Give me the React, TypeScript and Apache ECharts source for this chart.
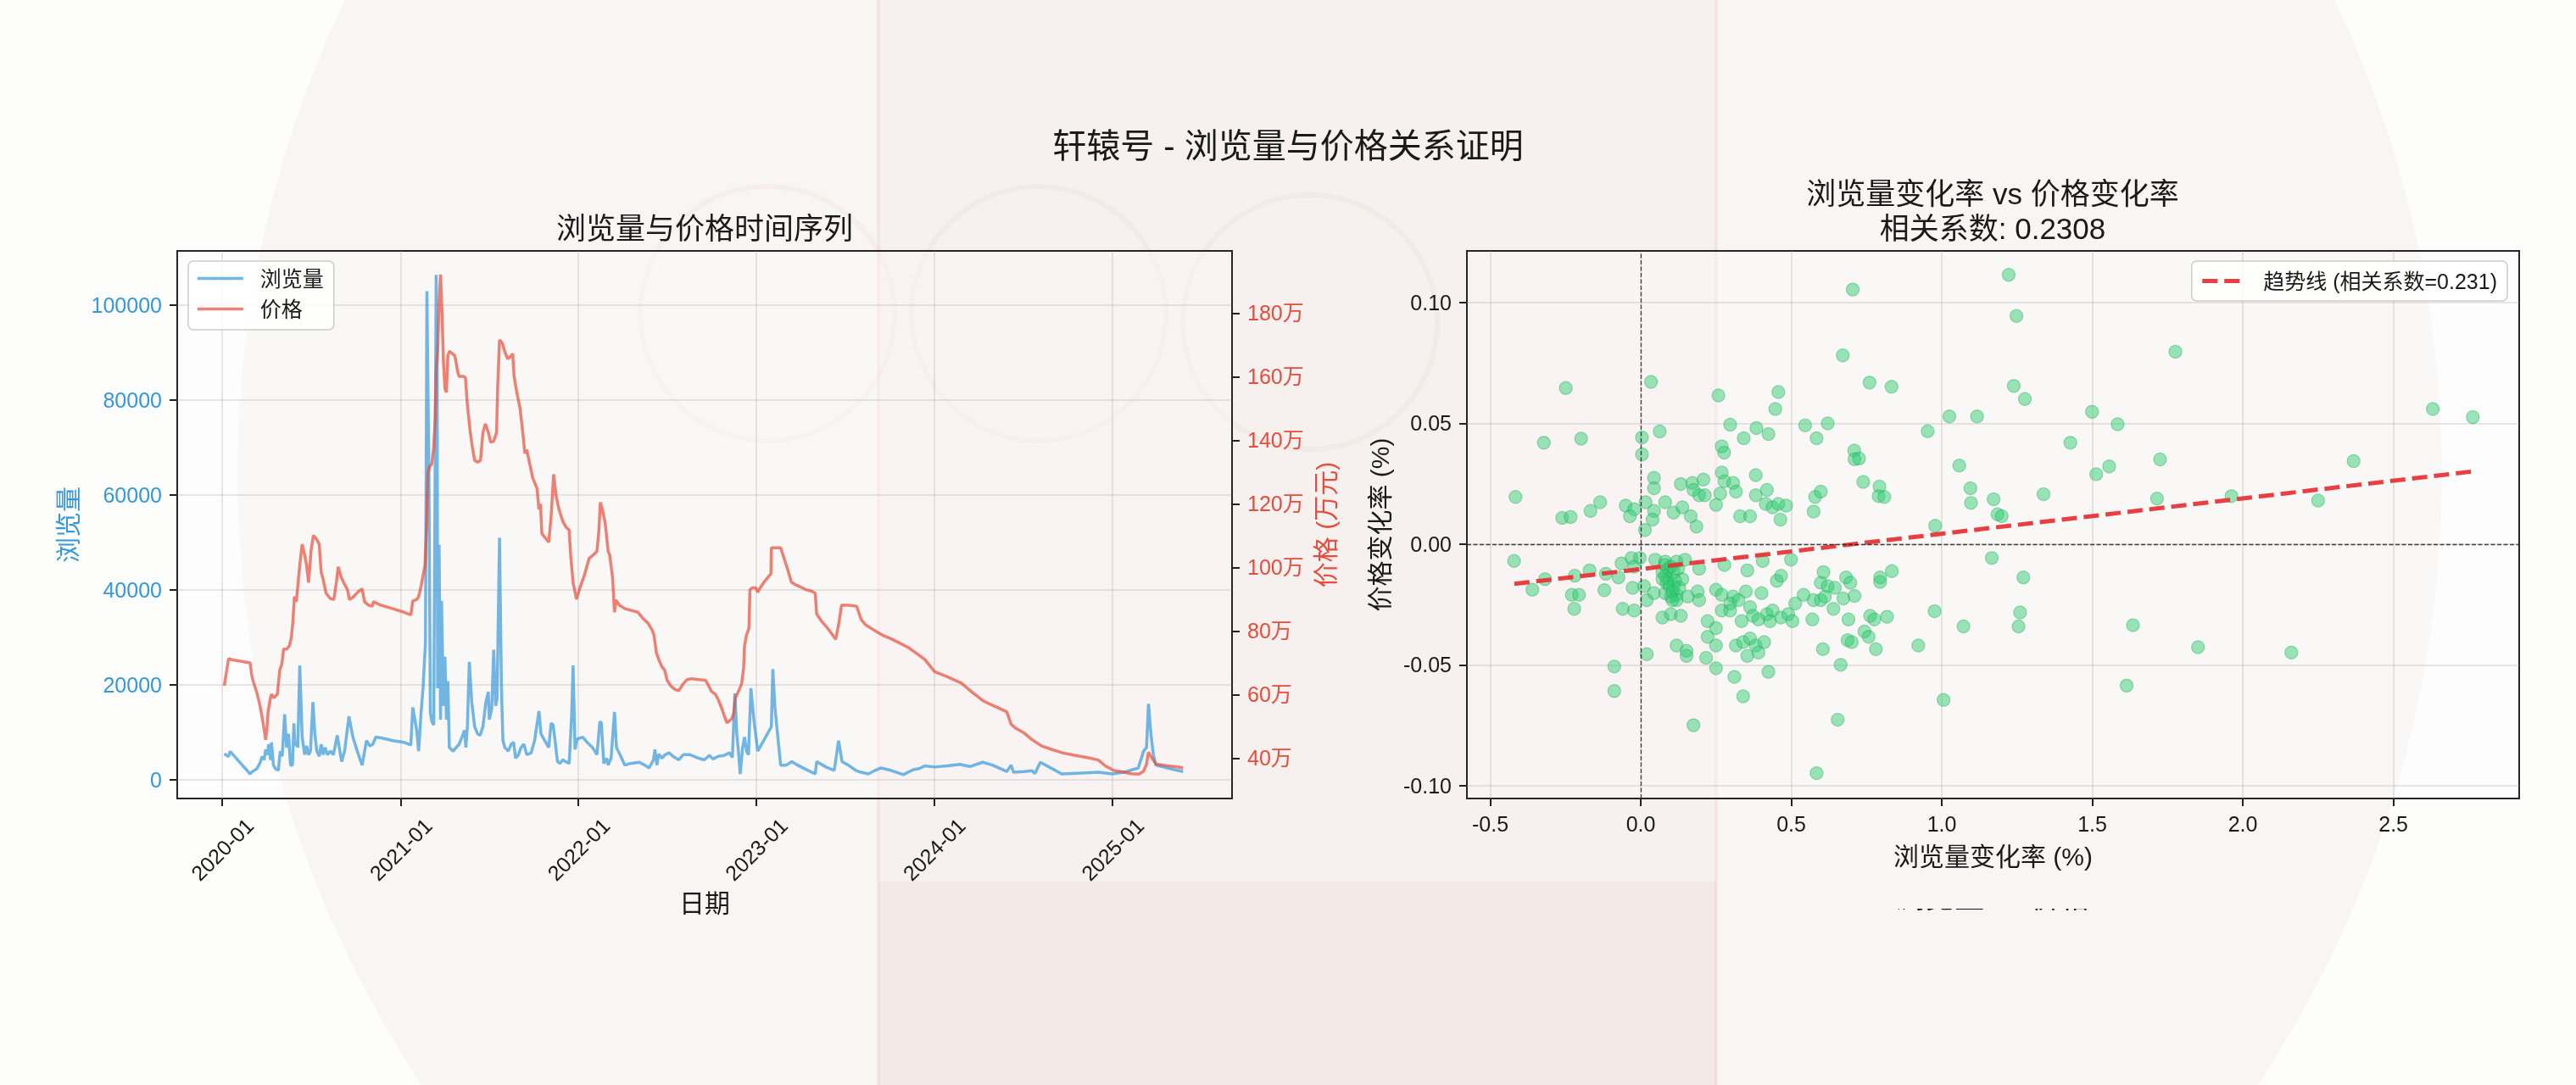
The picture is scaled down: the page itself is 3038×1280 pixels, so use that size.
import { useEffect, useRef } from 'react';
import * as echarts from 'echarts';

const FONT = "'Liberation Sans', 'Noto Sans CJK SC', sans-serif";
const W = 3038;
const H = 1280;

// Dates are stored as days since 2020-01-01
const START = new Date(2020, 0, 1).getTime();
const DAY = 86400000;
const toTime = (d: number) => START + d * DAY;

// 浏览量 [days since 2020-01-01, views]
const viewPoints: number[][] = [
  [4,5500],[13,4900],[16,6000],[57,1250],[60,1600],[71,2350],[77,3450],[82,4950],[86,4200],[89,6400],[93,5300],[95,7500],[99,4200],[101,7900],[105,3100],[109,2350],[115,2000],[119,6050],[123,4950],[128,13800],[132,6800],[136,9700],[140,3100],[144,3100],[147,11900],[149,7150],[152,8250],[155,6800],[159,24100],[164,9000],[169,5300],[173,7150],[177,5300],[181,6050],[186,16350],[190,9700],[194,6050],[199,4950],[203,7500],[207,5300],[211,6800],[216,5300],[222,6050],[228,5300],[236,9350],[245,3850],[251,6050],[260,13400],[268,9000],[277,6050],[287,3100],[296,8250],[303,7150],[309,7500],[315,9000],[326,8850],[350,8250],[373,7900],[387,7350],[391,15250],[399,10450],[403,6050],[408,14150],[412,19300],[417,28900],[420,102950],[424,65750],[427,14150],[430,12300],[434,11550],[437,67200],[439,106400],[441,88600],[442,19300],[445,49500],[448,12700],[450,37700],[454,15600],[457,25950],[460,12700],[463,20800],[466,6800],[474,6050],[480,6800],[486,7500],[492,9000],[497,10450],[500,6800],[503,11200],[507,24850],[512,16350],[518,11200],[524,9700],[529,9350],[535,11200],[541,16350],[546,18550],[548,12700],[553,14900],[557,27400],[561,15600],[564,17100],[569,51000],[573,19300],[576,8250],[580,6800],[587,6050],[593,7500],[598,7900],[602,4550],[608,5300],[613,6800],[619,7500],[625,5300],[634,5700],
  [641,8250],[650,14500],[654,9700],[660,8600],[666,7500],[670,6800],[675,11950],[679,11550],[683,8250],[688,3850],[693,3450],[699,4200],[705,3850],[712,3450],[717,13400],[720,24100],[724,6400],[728,8600],[740,9000],[749,7900],[760,6800],[769,5300],[775,12300],[778,11950],[783,3450],[789,4550],[792,3100],[798,4550],[805,14300],[809,6800],[818,4950],[826,3100],[838,3450],[856,3700],[867,3100],[876,2500],[885,4200],[888,6400],[892,3100],[896,5450],[902,4550],[909,5300],[917,5700],[925,4950],[937,4200],[946,5300],[960,5300],[978,4550],[989,4200],[1000,5150],[1007,4400],[1018,4950],[1030,5150],[1041,5700],[1047,4700],[1052,18200],[1056,9700],[1060,5300],[1063,1250],[1068,6800],[1072,9000],[1076,6050],[1080,5300],[1085,19300],[1091,12700],[1099,6050],[1111,8250],[1123,10450],[1127,11200],[1130,23350],[1134,15600],[1141,8250],[1146,3100],[1157,3100],[1169,3850],[1181,3100],[1195,2350],[1217,1250],[1220,3850],[1239,2700],[1256,2000],[1265,8250],[1272,3850],[1285,3100],[1300,2000],[1311,1600],[1326,1250],[1340,2000],
  [1352,2500],[1372,2000],[1398,1100],[1418,2150],[1430,2350],[1442,2950],[1462,2700],[1488,2950],[1514,3250],[1534,2800],[1561,3700],[1581,3100],[1610,1750],[1619,3100],[1624,1600],[1645,1750],[1662,1900],[1668,1350],[1679,3700],[1697,2700],[1723,1250],[1755,1400],[1798,1600],[1827,1250],[1851,1600],[1880,2500],[1891,6050],[1897,6800],[1901,16000],[1906,9700],[1911,5300],[1916,3100],[1940,2500],[1958,2050],[1972,1750],
];

// 价格 (万元) [days since 2020-01-01, price]
const pricePoints: number[][] = [
  [4,62.8],[13,71.3],[19,71.0],[57,70.0],[61,65.6],[65,63.4],[71,60.6],[77,56.8],[83,51.8],[89,45.8],[91,48.0],[94,54.6],[99,59.0],[101,60.1],[106,59.0],[113,60.1],[118,67.8],[122,69.4],[126,74.3],[132,74.3],[138,75.4],[142,78.2],[145,83.1],[148,90.8],[152,89.2],[155,94.1],[159,100.7],[164,107.3],[169,104.0],[173,100.7],[177,95.2],[180,100.7],[182,105.1],[187,110.1],[193,109.0],[199,107.3],[203,98.5],[207,96.3],[213,91.9],[221,90.3],[229,89.9],[234,95.2],[238,100.2],[244,96.9],[251,94.7],[257,93.0],[261,89.9],[268,90.6],[280,92.5],[287,93.3],[292,89.2],[300,88.1],[308,87.8],[310,89.2],[326,88.1],[350,87.0],[373,85.9],[387,85.1],[391,89.5],[399,89.9],[403,90.8],[408,94.1],[412,97.4],[416,100.7],[419,111.7],[422,129.8],[425,131.5],[430,132.6],[434,138.1],[437,146.9],[439,162.3],[442,167.8],[445,183.1],[448,192.2],[451,179.9],[454,164.5],[457,156.2],[460,155.1],[463,166.7],[466,168.0],[471,167.4],[477,166.7],[480,164.5],[483,161.7],[486,160.1],[495,160.1],[499,159.8],[503,151.3],[509,142.5],[513,138.1],[518,133.7],[524,133.1],[530,133.7],[535,142.5],[540,145.2],[546,142.5],[551,139.4],[557,139.7],[563,142.5],[565,155.7],[569,171.6],[575,170.5],[580,167.8],[586,165.6],[590,166.1],[596,167.2],[599,160.1],[605,154.6],[611,150.2],[616,143.6],[621,135.9],[625,137.0],[631,132.6],[637,128.2],
  [640,127.1],[646,124.9],[650,118.3],[653,120.0],[656,110.6],[662,109.5],[670,107.9],[675,116.1],[680,129.3],[685,122.7],[691,118.3],[699,114.5],[705,112.8],[712,111.7],[715,104.0],[720,95.2],[727,90.0],[734,93.6],[743,97.4],[753,102.9],[762,104.0],[769,105.1],[773,111.7],[776,120.5],[780,118.3],[786,113.9],[792,105.1],[795,104.0],[801,96.9],[805,85.9],[808,89.7],[815,88.1],[827,87.0],[841,86.4],[853,85.9],[859,84.8],[865,83.7],[873,82.6],[882,80.4],[886,78.7],[891,73.2],[896,71.0],[902,68.8],[908,67.7],[913,64.5],[920,62.8],[928,61.7],[937,61.2],[946,63.4],[954,64.7],[963,65.0],[978,64.7],[992,64.5],[998,62.8],[1004,61.0],[1012,60.1],[1018,58.4],[1025,55.7],[1030,53.5],[1036,51.1],[1041,51.8],[1046,52.4],[1050,54.4],[1053,59.0],[1060,61.2],[1066,63.4],[1070,68.3],[1072,75.4],[1076,78.7],[1081,80.9],[1083,93.0],[1088,93.6],[1095,93.6],[1099,92.2],[1104,93.6],[1111,95.2],[1120,96.9],[1126,98.0],[1127,106.2],[1134,106.2],[1146,106.2],[1153,102.9],[1160,99.6],[1168,95.4],[1175,94.7],[1186,93.9],[1198,93.0],[1210,92.5],[1217,91.9],[1220,85.3],[1230,83.1],[1239,81.5],[1250,79.3],[1259,77.4],[1265,82.0],[1271,88.1],[1285,88.1],[1302,87.8],[1311,83.7],[1320,82.0],[1331,80.9],[1343,79.8],[1355,78.7],
  [1372,77.6],[1407,74.9],[1430,72.4],[1442,71.0],[1462,67.2],[1488,65.6],[1517,63.6],[1540,60.6],[1563,57.9],[1587,56.2],[1610,54.6],[1619,50.7],[1627,49.6],[1645,48.0],[1662,45.8],[1682,43.8],[1703,42.7],[1726,41.6],[1749,40.9],[1778,40.1],[1798,39.4],[1813,37.5],[1830,36.1],[1848,35.7],[1865,35.1],[1882,35.0],[1891,35.9],[1897,38.1],[1901,41.9],[1909,39.7],[1917,38.1],[1940,37.6],[1958,37.3],[1972,36.9],
];

// 浏览量变化率 (%), 价格变化率 (%)
const ratePoints: number[][] = [
  [-0.249,0.0646],[0.034,0.0671],[0.258,0.0615],[0.457,0.0629],[0.447,0.0559],[0.297,0.0494],[0.384,0.048],[0.424,0.0455],[0.342,0.0438],[0.546,0.0491],[0.584,0.0438],[-0.322,0.0419],[-0.198,0.0436],[0.063,0.0466],[0.004,0.0441],[0.004,0.0371],[0.269,0.0404],[0.277,0.0378],[-0.416,0.0195],[0.044,0.0274],[0.044,0.0231],[0.133,0.0248],[0.171,0.0253],[0.208,0.0267],[0.175,0.0224],[0.194,0.0202],[0.213,0.0202],[0.269,0.0296],[0.278,0.026],[0.307,0.0253],[0.316,0.0217],[0.264,0.0209],[0.25,0.0162],[0.382,0.0285],[0.419,0.0224],[0.382,0.0202],[0.415,0.0166],[0.438,0.0152],[0.457,0.0166],[0.483,0.0159],[0.464,0.0101],[0.579,0.0195],[0.598,0.0217],[0.574,0.0134],[0.33,0.0115],[0.363,0.0115],[0.166,0.0115],[0.185,0.0072],[0.109,0.013],[0.138,0.0152],[0.081,0.0173],[0.044,0.0137],[0.039,0.0101],[0.016,0.0173],[-0.05,0.0159],[-0.022,0.0144],[-0.036,0.0115],[-0.261,0.0108],[-0.233,0.0112],[-0.167,0.0137],[-0.135,0.0173],[0.014,0.0058],
  [-0.421,-0.007],[-0.36,-0.0189],[-0.318,-0.0145],[-0.219,-0.0131],[-0.17,-0.0109],[-0.116,-0.0123],[-0.074,-0.0138],[-0.064,-0.008],[-0.031,-0.0058],[-0.003,-0.0058],[-0.022,-0.0094],[-0.027,-0.0181],[0.011,-0.0174],[0.044,-0.0203],[0.02,-0.0232],[-0.229,-0.021],[-0.205,-0.021],[-0.121,-0.0191],[-0.221,-0.0268],[-0.06,-0.0268],[-0.022,-0.0275],[0.048,-0.0065],[0.081,-0.0073],[0.119,-0.0073],[0.147,-0.0065],[0.072,-0.0116],[0.091,-0.0145],[0.109,-0.0174],[0.1,-0.0217],[0.119,-0.021],[0.081,-0.0203],[0.138,-0.0145],[0.156,-0.0217],[0.189,-0.0196],[0.194,-0.0232],[0.194,-0.0102],[0.278,-0.0087],[0.354,-0.0109],[0.405,-0.007],[0.499,-0.0065],[0.452,-0.0152],[0.466,-0.0131],[0.25,-0.0189],[0.269,-0.021],[0.307,-0.0217],[0.297,-0.0246],[0.325,-0.0232],[0.349,-0.0196],[0.401,-0.0203],[0.269,-0.0275],[0.297,-0.0275],[0.363,-0.0261],[0.372,-0.0297],[0.335,-0.0319],[0.391,-0.0312],[0.419,-0.029],[0.438,-0.0275],[0.429,-0.0319],[0.466,-0.0304],[0.49,-0.029],[0.504,-0.0319],[0.513,-0.0246],[0.541,-0.021],[0.574,-0.0232],[0.598,-0.016],[0.598,-0.0232],[0.57,-0.0312],[0.605,-0.0435],[0.222,-0.0319],[0.25,-0.0348],[0.222,-0.0384],[0.072,-0.0304],[0.1,-0.029],[0.133,-0.0297],[0.119,-0.042],[0.152,-0.0442],[0.152,-0.0463],[0.25,-0.042],[0.217,-0.0471],[0.25,-0.0514],[0.316,-0.042],[0.34,-0.0406],[0.363,-0.0391],[0.382,-0.042],[0.41,-0.0406],[0.354,-0.0463],[0.391,-0.0449],[0.424,-0.0529],[0.02,-0.0456],[0.311,-0.055],[0.34,-0.063],[-0.088,-0.0507],[-0.088,-0.0608],[0.175,-0.075],[0.584,-0.0948],
  [0.081,-0.0087],[0.091,-0.0102],[0.1,-0.0094],[0.109,-0.0116],[0.124,-0.0102],[0.081,-0.0131],[0.095,-0.0174],[0.105,-0.0196],[0.114,-0.0152],[0.128,-0.0181],[0.086,-0.016],[0.072,-0.0145],[0.119,-0.0232],[0.105,-0.0232],
  [1.222,0.1114],[0.704,0.1053],[1.248,0.0944],[0.671,0.0781],[0.76,0.0668],[0.833,0.0651],[1.239,0.0654],[1.276,0.06],[1.499,0.0547],[1.584,0.0496],[1.025,0.0528],[1.117,0.0528],[0.621,0.0499],[0.953,0.0467],[1.427,0.0419],[0.709,0.0387],[0.71,0.0351],[0.725,0.0354],[1.058,0.0325],[1.513,0.0289],[1.556,0.0321],[1.725,0.035],[0.739,0.0257],[0.793,0.0238],[0.79,0.0198],[0.809,0.0195],[1.095,0.0231],[1.097,0.017],[1.172,0.0185],[1.338,0.0206],[1.715,0.0188],[1.185,0.0123],[1.199,0.0115],[0.978,0.0076],[1.166,-0.0058],[1.271,-0.0138],[0.607,-0.0116],[0.621,-0.0174],[0.645,-0.0181],[0.682,-0.0138],[0.696,-0.016],[0.795,-0.0138],[0.795,-0.0157],[0.834,-0.0112],[0.612,-0.0217],[0.673,-0.0225],[0.71,-0.0215],[0.64,-0.0268],[0.69,-0.0312],[0.762,-0.0297],[0.776,-0.0312],[0.818,-0.0301],[0.976,-0.0278],[1.26,-0.0283],[1.255,-0.0341],[1.072,-0.0341],[1.635,-0.0336],[0.743,-0.0362],[0.757,-0.0384],[0.687,-0.0398],[0.701,-0.0406],[0.781,-0.0435],[0.922,-0.042],[0.664,-0.05],[1.006,-0.0645],[0.654,-0.0727],[1.614,-0.0586],
  [1.776,0.0796],[2.631,0.0559],[2.764,0.0525],[2.368,0.0343],[1.962,0.0198],[2.25,0.018],[1.851,-0.0427],[2.161,-0.0449],
];

// fitted trend line end points
const trendLine: number[][] = [[-0.42, -0.0165], [2.76, 0.03]];

const yearTicks = [2020, 2021, 2022, 2023, 2024, 2025];
const viewTicks = [0, 20000, 40000, 60000, 80000, 100000];
const priceTicks = [40, 60, 80, 100, 120, 140, 160, 180];
const rateXTicks = [-0.5, 0, 0.5, 1, 1.5, 2, 2.5];
const rateYTicks = [-0.1, -0.05, 0, 0.05, 0.1];

const BLUE = '#3498db';
const RED = '#e74c3c';
const TREND = 'rgb(232,52,56)';
const TEXT = '#1a1a1a';
const BG = '#f8f5f2';
const GRID_LINE = { show: true, lineStyle: { color: 'rgba(160,160,160,0.32)', width: 1.5 } };
const TICK = (vals: number[]) => ({ show: true, length: 9, inside: false, lineStyle: { color: '#222', width: 2 }, customValues: vals });
const LEGEND_BOX = {
  backgroundColor: 'rgba(255,255,255,0.8)', borderColor: '#cccccc', borderWidth: 1.5, borderRadius: 6,
  itemStyle: { opacity: 0, borderWidth: 0 },
};

export default function App() {
  const ref = useRef<HTMLDivElement>(null);
  useEffect(() => {
    if (!ref.current) return;
    const chart = echarts.init(ref.current, undefined, { renderer: 'svg', width: W, height: H });
    const yearTimes = yearTicks.map((y) => new Date(y, 0, 1).getTime());
    const bgZ = -100;
    const option: any = {
      animation: false,
      backgroundColor: 'transparent',
      textStyle: { fontFamily: FONT },
      graphic: {
        elements: [
          { type: 'rect', z: bgZ, silent: true, shape: { x: 0, y: 0, width: W, height: H }, style: { fill: '#fdfdfc' } },
          { type: 'circle', z: bgZ + 1, silent: true, shape: { cx: 1580, cy: 560, r: 1300 }, style: { fill: BG } },
          { type: 'rect', z: bgZ + 2, silent: true, shape: { x: 1036, y: 0, width: 988, height: H }, style: { fill: 'rgba(236,205,198,0.09)' } },
          { type: 'rect', z: bgZ + 3, silent: true, shape: { x: 1036, y: 1040, width: 988, height: 240 }, style: { fill: 'rgba(226,170,160,0.09)' } },
          { type: 'line', z: bgZ + 3, silent: true, shape: { x1: 1036, y1: 0, x2: 1036, y2: H }, style: { stroke: 'rgba(215,150,140,0.13)', lineWidth: 4 } },
          { type: 'line', z: bgZ + 3, silent: true, shape: { x1: 2024, y1: 0, x2: 2024, y2: H }, style: { stroke: 'rgba(215,150,140,0.13)', lineWidth: 4 } },
          { type: 'circle', z: bgZ + 4, silent: true, shape: { cx: 905, cy: 370, r: 150 }, style: { fill: 'none', stroke: 'rgba(205,110,100,0.05)', lineWidth: 6 } },
          { type: 'circle', z: bgZ + 4, silent: true, shape: { cx: 1225, cy: 370, r: 150 }, style: { fill: 'none', stroke: 'rgba(205,110,100,0.05)', lineWidth: 6 } },
          { type: 'circle', z: bgZ + 4, silent: true, shape: { cx: 1545, cy: 380, r: 150 }, style: { fill: 'none', stroke: 'rgba(205,110,100,0.05)', lineWidth: 6 } },
          // partially hidden title of the next panel
          { type: 'text', z: 99, silent: true, x: 2350, y: 1058, style: { text: '浏览量 vs 价格', fontSize: 35, fontFamily: FONT, fill: TEXT, textAlign: 'center', textVerticalAlign: 'middle' } },
          { type: 'rect', z: 100, silent: true, shape: { x: 2200, y: 1030, width: 300, height: 42 }, style: { fill: BG } },
        ],
      },
      title: [
        { text: '轩辕号 - 浏览量与价格关系证明', left: 1519, top: 148, textAlign: 'center', padding: 0, textStyle: { fontSize: 40, fontWeight: 'normal', color: TEXT, lineHeight: 48, fontFamily: FONT } },
        { text: '浏览量与价格时间序列', left: 831, top: 248, textAlign: 'center', padding: 0, textStyle: { fontSize: 35, fontWeight: 'normal', color: TEXT, lineHeight: 42, fontFamily: FONT } },
        { text: '浏览量变化率 vs 价格变化率\n相关系数: 0.2308', left: 2350, top: 208, textAlign: 'center', padding: 0, textStyle: { fontSize: 35, fontWeight: 'normal', color: TEXT, lineHeight: 41, fontFamily: FONT } },
      ],
      legend: [
        {
          ...LEGEND_BOX,
          data: ['浏览量', '价格'], orient: 'vertical', left: 222, top: 308,
          itemWidth: 54, itemHeight: 25, itemGap: 11, padding: [8, 12, 12, 9],
          lineStyle: { width: 3.5, opacity: 0.7 },
          textStyle: { fontSize: 25, color: TEXT, fontFamily: FONT, padding: [0, 0, 0, 15] },
        },
        {
          ...LEGEND_BOX,
          data: ['趋势线 (相关系数=0.231)'], orient: 'vertical', right: 81, top: 308,
          itemWidth: 47, itemHeight: 25, padding: [11, 12, 11, 10],
          lineStyle: { width: 5, type: [18, 8], color: TREND },
          textStyle: { fontSize: 25, color: TEXT, fontFamily: FONT, padding: [0, 0, 0, 20] },
        },
      ],
      grid: [
        { left: 209, top: 296, width: 1244, height: 646, show: true, borderColor: '#262626', borderWidth: 2, backgroundColor: 'rgba(255,255,255,0.3)', containLabel: false },
        { left: 1730, top: 296, width: 1241, height: 646, show: true, borderColor: '#262626', borderWidth: 2, backgroundColor: 'rgba(255,255,255,0.3)', containLabel: false },
      ],
      xAxis: [
        {
          type: 'value', gridIndex: 0, min: toTime(-92.5), max: toTime(2072.5),
          axisLine: { show: false, onZero: false },
          axisTick: TICK(yearTimes),
          splitLine: GRID_LINE,
          axisLabel: {
            customValues: yearTimes, rotate: 45, align: 'center', verticalAlign: 'middle', margin: 60,
            fontSize: 25, color: TEXT, fontFamily: FONT,
            formatter: (v: number) => { const d = new Date(v); return d.getFullYear() + '-' + String(d.getMonth() + 1).padStart(2, '0'); },
          },
          name: '日期', nameLocation: 'middle', nameGap: 106,
          nameTextStyle: { fontSize: 30, color: TEXT, fontFamily: FONT },
        },
        {
          type: 'value', gridIndex: 1, min: -0.5775, max: 2.918,
          axisLine: { show: false, onZero: false },
          axisTick: TICK(rateXTicks),
          splitLine: GRID_LINE,
          axisLabel: { customValues: rateXTicks, margin: 17, fontSize: 25, color: TEXT, fontFamily: FONT, formatter: (v: number) => v.toFixed(1) },
          name: '浏览量变化率 (%)', nameLocation: 'middle', nameGap: 53,
          nameTextStyle: { fontSize: 30, color: TEXT, fontFamily: FONT },
        },
      ],
      yAxis: [
        {
          type: 'value', gridIndex: 0, min: -3930, max: 111430, position: 'left',
          axisLine: { show: false, onZero: false },
          axisTick: TICK(viewTicks),
          splitLine: GRID_LINE,
          axisLabel: { customValues: viewTicks, margin: 18, fontSize: 25, color: BLUE, fontFamily: FONT, formatter: (v: number) => String(v) },
          name: '浏览量', nameLocation: 'middle', nameGap: 114, nameRotate: 90,
          nameTextStyle: { fontSize: 30, color: BLUE, fontFamily: FONT },
        },
        {
          type: 'value', gridIndex: 0, min: 27.3, max: 199.6, position: 'right',
          axisLine: { show: false, onZero: false },
          axisTick: TICK(priceTicks),
          splitLine: { show: false },
          axisLabel: { customValues: priceTicks, margin: 18, fontSize: 25, color: RED, fontFamily: FONT, formatter: (v: number) => v + '万' },
          name: '价格 (万元)', nameLocation: 'middle', nameGap: 95, nameRotate: 90,
          nameTextStyle: { fontSize: 30, color: RED, fontFamily: FONT },
        },
        {
          type: 'value', gridIndex: 1, min: -0.1053, max: 0.1213, position: 'left',
          axisLine: { show: false, onZero: false },
          axisTick: TICK(rateYTicks),
          splitLine: GRID_LINE,
          axisLabel: { customValues: rateYTicks, margin: 18, fontSize: 25, color: TEXT, fontFamily: FONT, formatter: (v: number) => v.toFixed(2) },
          name: '价格变化率 (%)', nameLocation: 'middle', nameGap: 88, nameRotate: 90,
          nameTextStyle: { fontSize: 30, color: TEXT, fontFamily: FONT },
        },
      ],
      series: [
        {
          name: '浏览量', type: 'line', xAxisIndex: 0, yAxisIndex: 0, z: 2,
          symbol: 'none', showSymbol: false,
          data: viewPoints.map(([d, v]) => [toTime(d), v]),
          lineStyle: { color: BLUE, width: 3.5, opacity: 0.7 },
          itemStyle: { color: BLUE, opacity: 0.7 },
        },
        {
          name: '价格', type: 'line', xAxisIndex: 0, yAxisIndex: 1, z: 3,
          symbol: 'none', showSymbol: false,
          data: pricePoints.map(([d, v]) => [toTime(d), v]),
          lineStyle: { color: RED, width: 3.5, opacity: 0.7 },
          itemStyle: { color: RED, opacity: 0.7 },
        },
        {
          name: '变化率', type: 'scatter', xAxisIndex: 1, yAxisIndex: 2, z: 2,
          symbolSize: 15, data: ratePoints,
          itemStyle: { color: 'rgba(46,204,113,0.6)', borderColor: 'rgba(39,174,96,0.55)', borderWidth: 1.2 },
          markLine: {
            silent: true, symbol: ['none', 'none'], label: { show: false }, animation: false,
            lineStyle: { color: '#222', width: 1.3, type: [5, 2.5], opacity: 0.85 },
            data: [{ xAxis: 0 }, { yAxis: 0 }],
          },
        },
        {
          name: '趋势线 (相关系数=0.231)', type: 'line', xAxisIndex: 1, yAxisIndex: 2, z: 4,
          symbol: 'none', showSymbol: false, data: trendLine,
          lineStyle: { color: TREND, width: 5, type: [18, 8], opacity: 0.95 },
          itemStyle: { color: TREND },
        },
      ],
    };
    chart.setOption(option);
    return () => chart.dispose();
  }, []);
  return <div ref={ref} style={{ position: 'fixed', left: 0, top: 0, width: W + 'px', height: H + 'px' }} />;
}
